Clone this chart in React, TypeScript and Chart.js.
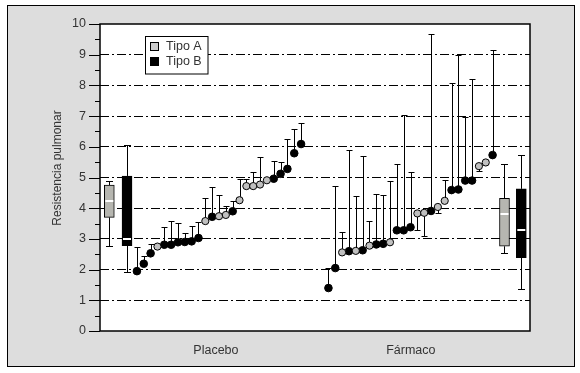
import React, { useEffect, useRef } from 'react';
import { Chart, registerables } from 'chart.js';

Chart.register(...registerables);

// ---------------- data ----------------
const CATEGORIES = ['Placebo', 'Fármaco'];
const Y_TITLE = 'Resistencia pulmonar';
const LEGEND_LABELS = ['Tipo A', 'Tipo B'];

const placeboValues = [1.95, 2.19, 2.53, 2.75, 2.81, 2.81, 2.89, 2.9, 2.92, 3.03, 3.58, 3.72, 3.74, 3.78, 3.9, 4.26, 4.72, 4.72, 4.77, 4.91, 4.96, 5.12, 5.28, 5.79, 6.09];
const placeboTypes = ['B', 'B', 'B', 'A', 'B', 'B', 'B', 'B', 'B', 'B', 'A', 'B', 'A', 'A', 'B', 'A', 'A', 'A', 'A', 'A', 'B', 'B', 'B', 'B', 'B'];
const placeboErrHigh = [2.75, 2.45, 2.82, null, 3.4, 3.59, 3.51, 3.2, 3.43, 3.56, 4.34, 4.68, 4.42, 4.08, 4.24, 4.95, 4.94, 5.17, 5.68, null, 5.55, 5.49, 6.24, 6.57, 6.77];
const placeboErrLow = [null, null, null, null, null, null, null, null, null, null, null, null, null, null, null, null, null, null, null, null, null, null, null, null, null];

const farmacoValues = [1.4, 2.05, 2.56, 2.6, 2.61, 2.63, 2.78, 2.82, 2.84, 2.89, 3.28, 3.28, 3.38, 3.83, 3.85, 3.91, 4.04, 4.24, 4.59, 4.61, 4.9, 4.9, 5.37, 5.49, 5.73];
const farmacoTypes = ['B', 'B', 'A', 'B', 'A', 'B', 'A', 'B', 'B', 'A', 'B', 'B', 'B', 'A', 'A', 'B', 'A', 'A', 'B', 'B', 'B', 'B', 'A', 'A', 'B'];
const farmacoErrHigh = [2.06, 4.71, 3.23, 5.89, 4.41, 5.69, 3.59, 4.45, 4.42, 4.88, 5.45, 7.03, 5.17, null, null, 9.67, null, 4.91, 8.07, 8.98, 6.98, 8.22, null, null, 9.14];
const farmacoErrLow = [null, null, null, null, null, null, null, null, null, null, null, null, null, 3.28, 3.08, null, 3.83, null, null, null, null, null, 5.21, null, null];

// box stats: [min, q1, median, q3, max]
const placeboBoxA = [2.76, 3.7, 4.22, 4.75, 4.89];
const placeboBoxB = [1.91, 2.78, 3.0, 5.05, 6.07];
const farmacoBoxA = [2.53, 2.76, 3.82, 4.32, 5.45];
const farmacoBoxB = [1.36, 2.39, 3.28, 4.63, 5.73];

// ---------------- layout (slot units on the x scale) ----------------
const X_MAX = 62.87;
const GROUP_START = [5.4, 33.4];
const BOX_X = [[1.36, 3.95], [59.14, 61.6]];
const LABEL_X = [16.95, 45.45];

const GRAY = '#c0c0c0';
const BOX_GRAY = '#b6b6b0';
const TEXT = '#333';
const FONT = '"Liberation Sans", Arial, sans-serif';

const groups = [
  { values: placeboValues, types: placeboTypes, hi: placeboErrHigh, lo: placeboErrLow, boxes: [placeboBoxA, placeboBoxB] },
  { values: farmacoValues, types: farmacoTypes, hi: farmacoErrHigh, lo: farmacoErrLow, boxes: [farmacoBoxA, farmacoBoxB] },
];

function pointsOfType(t: string) {
  const out: { x: number; y: number }[] = [];
  groups.forEach((g, gi) => {
    g.values.forEach((v, i) => {
      if (g.types[i] === t) out.push({ x: GROUP_START[gi] + i, y: v });
    });
  });
  return out;
}

function boxesOfType(ti: number) {
  return groups.map((g, gi) => ({ x: BOX_X[gi][ti], y: [g.boxes[ti][1], g.boxes[ti][3]] }));
}

const framePlugin = {
  id: 'frame',
  beforeDraw(chart: any) {
    const { ctx, chartArea: a } = chart;
    ctx.save();
    ctx.fillStyle = '#ffffff';
    ctx.fillRect(0, 0, chart.width, chart.height);
    ctx.fillStyle = '#dddddd';
    ctx.fillRect(7.5, 5.5, 567, 361);
    ctx.strokeStyle = '#000';
    ctx.lineWidth = 1;
    ctx.strokeRect(7.5, 5.5, 567, 361);
    ctx.fillStyle = '#ffffff';
    ctx.fillRect(a.left, a.top, a.right - a.left, a.bottom - a.top);
    ctx.restore();
  },
  beforeDatasetsDraw(chart: any) {
    const { ctx, scales } = chart;
    const xs = scales.x, ys = scales.y;
    ctx.save();
    ctx.strokeStyle = '#000';
    ctx.lineWidth = 1;
    // error bars
    groups.forEach((g, gi) => {
      g.values.forEach((v, i) => {
        const px = Math.round(xs.getPixelForValue(GROUP_START[gi] + i)) + 0.5;
        const py = ys.getPixelForValue(v);
        [g.hi[i], g.lo[i]].forEach((e) => {
          if (e === null || e === undefined) return;
          const ey = Math.round(ys.getPixelForValue(e)) + 0.5;
          ctx.beginPath();
          ctx.moveTo(px, py);
          ctx.lineTo(px, ey);
          ctx.moveTo(px - 3, ey);
          ctx.lineTo(px + 3, ey);
          ctx.stroke();
        });
      });
      // whiskers
      g.boxes.forEach((b, ti) => {
        const px = Math.round(xs.getPixelForValue(BOX_X[gi][ti])) + 0.5;
        const yMin = Math.round(ys.getPixelForValue(b[0])) + 0.5;
        const yMax = Math.round(ys.getPixelForValue(b[4])) + 0.5;
        const yQ1 = ys.getPixelForValue(b[1]);
        const yQ3 = ys.getPixelForValue(b[3]);
        ctx.beginPath();
        ctx.moveTo(px, yQ3);
        ctx.lineTo(px, yMax);
        ctx.moveTo(px - 3.5, yMax);
        ctx.lineTo(px + 3.5, yMax);
        ctx.moveTo(px, yQ1);
        ctx.lineTo(px, yMin);
        ctx.moveTo(px - 3.5, yMin);
        ctx.lineTo(px + 3.5, yMin);
        ctx.stroke();
      });
    });
    ctx.restore();
  },
  afterDatasetsDraw(chart: any) {
    const { ctx, scales } = chart;
    const xs = scales.x, ys = scales.y;
    ctx.save();
    ctx.strokeStyle = '#ffffff';
    ctx.lineWidth = 2;
    groups.forEach((g, gi) => {
      g.boxes.forEach((b, ti) => {
        const px = xs.getPixelForValue(BOX_X[gi][ti]);
        const my = Math.round(ys.getPixelForValue(b[2]));
        ctx.beginPath();
        ctx.moveTo(px - 4, my);
        ctx.lineTo(px + 4, my);
        ctx.stroke();
      });
    });
    ctx.restore();
  },
  afterDraw(chart: any) {
    const { ctx, chartArea: a, scales } = chart;
    const ys = scales.y;
    ctx.save();
    ctx.strokeStyle = '#000';
    ctx.lineWidth = 1.5;
    ctx.strokeRect(a.left, a.top, a.right - a.left, a.bottom - a.top);
    // ticks: major and minor
    ctx.lineWidth = 1;
    for (let v = ys.min; v <= ys.max + 1e-9; v += 0.5) {
      const y = Math.round(ys.getPixelForValue(v)) + 0.5;
      const major = Math.abs(v - Math.round(v)) < 1e-9;
      ctx.beginPath();
      ctx.moveTo(a.left - (major ? 11 : 5), y);
      ctx.lineTo(a.left, y);
      ctx.stroke();
    }
    // y title
    ctx.fillStyle = TEXT;
    ctx.font = `12px ${FONT}`;
    ctx.textAlign = 'center';
    ctx.textBaseline = 'middle';
    ctx.translate(58, 168);
    ctx.rotate(-Math.PI / 2);
    ctx.fillText(Y_TITLE, 0, 0);
    ctx.restore();

    // legend
    ctx.save();
    ctx.fillStyle = '#ffffff';
    ctx.fillRect(145.5, 36.5, 62.5, 37.5);
    ctx.strokeStyle = '#000';
    ctx.lineWidth = 1;
    ctx.strokeRect(145.5, 36.5, 62.5, 37.5);
    const sw = [GRAY, '#000000'];
    LEGEND_LABELS.forEach((lab, i) => {
      const cy = 47 + i * 15;
      ctx.fillStyle = i === 0 ? '#cccccc' : '#000';
      ctx.fillRect(150.5, cy - 4.5, 8, 8);
      ctx.strokeRect(150.5, cy - 4.5, 8, 8);
      ctx.fillStyle = TEXT;
      ctx.font = `12.5px ${FONT}`;
      ctx.textAlign = 'left';
      ctx.textBaseline = 'middle';
      ctx.fillText(lab, 166, cy);
    });
    void sw;
    ctx.restore();
  },
};

export default function App() {
  const ref = useRef<HTMLCanvasElement | null>(null);
  useEffect(() => {
    if (!ref.current) return;
    const chart = new Chart(ref.current, {
      type: 'scatter',
      data: {
        datasets: [
          {
            type: 'bar',
            label: 'Caja A',
            data: boxesOfType(0) as any,
            backgroundColor: BOX_GRAY,
            borderColor: '#000',
            borderWidth: 1,
            borderSkipped: false,
            barThickness: 10,
            grouped: false,
          } as any,
          {
            type: 'bar',
            label: 'Caja B',
            data: boxesOfType(1) as any,
            backgroundColor: '#000',
            borderColor: '#000',
            borderWidth: 1,
            borderSkipped: false,
            barThickness: 10,
            grouped: false,
          } as any,
          {
            label: LEGEND_LABELS[0],
            data: pointsOfType('A'),
            pointRadius: 3.6,
            pointBackgroundColor: GRAY,
            pointBorderColor: '#000',
            pointBorderWidth: 1,
          },
          {
            label: LEGEND_LABELS[1],
            data: pointsOfType('B'),
            pointRadius: 3.8,
            pointBackgroundColor: '#000',
            pointBorderColor: '#000',
            pointBorderWidth: 1,
          },
        ],
      },
      options: {
        animation: false,
        responsive: false,
        devicePixelRatio: 1,
        layout: { padding: { left: 0, top: 24, right: 50, bottom: 0 } },
        plugins: { legend: { display: false }, tooltip: { enabled: false } },
        scales: {
          x: {
            type: 'linear',
            min: 0,
            max: X_MAX,
            offset: false,
            grid: { display: false, drawTicks: false },
            border: { display: false },
            afterBuildTicks: (scale: any) => {
              scale.ticks = LABEL_X.map((v) => ({ value: v }));
            },
            afterFit: (scale: any) => {
              scale.height = 42;
            },
            ticks: {
              autoSkip: false,
              maxRotation: 0,
              padding: 12,
              color: TEXT,
              font: { family: FONT, size: 12.5 },
              callback: (_v: any, i: number) => CATEGORIES[i],
            },
          },
          y: {
            type: 'linear',
            min: 0,
            max: 10,
            afterFit: (scale: any) => {
              scale.width = 100;
            },
            grid: {
              drawTicks: false,
              lineWidth: 1,
              color: (c: any) => (c.tick && (c.tick.value === 0 || c.tick.value === 10) ? 'rgba(0,0,0,0)' : '#000'),
            },
            border: { display: false, dash: [9, 3, 2, 3] },
            ticks: {
              stepSize: 1,
              padding: 14,
              color: TEXT,
              font: { family: FONT, size: 12.5 },
            },
          },
        },
      } as any,
      plugins: [framePlugin],
    });
    return () => chart.destroy();
  }, []);
  return (
    <div style={{ position: 'fixed', left: 0, top: 0, width: 580, height: 373 }}>
      <canvas ref={ref} width={580} height={373} style={{ display: 'block' }} />
    </div>
  );
}
